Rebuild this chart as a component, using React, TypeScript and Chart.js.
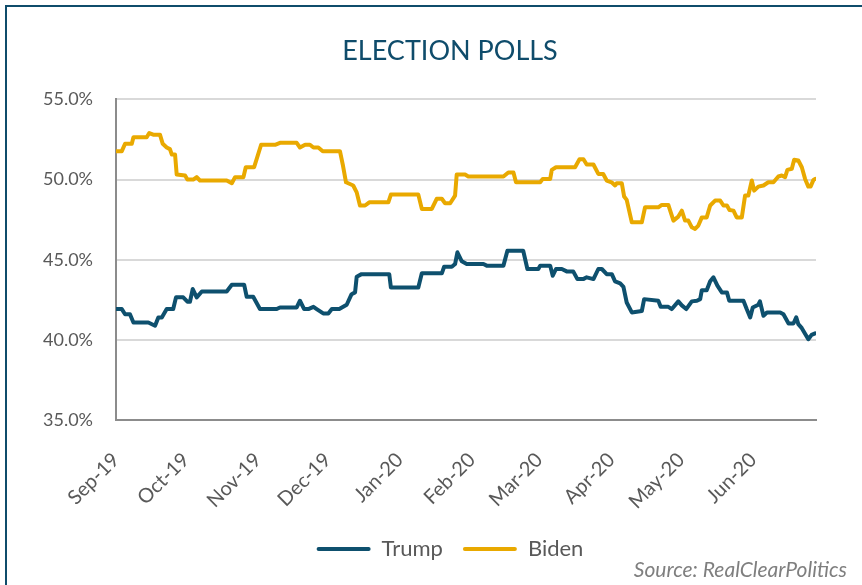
import React, { useEffect, useRef } from "react";
import { Chart, registerables } from "chart.js";

Chart.register(...registerables);

// Month tick labels and their day offsets from 1 Sep 2019
const monthLabels = ["Sep-19", "Oct-19", "Nov-19", "Dec-19", "Jan-20", "Feb-20", "Mar-20", "Apr-20", "May-20", "Jun-20"];
const monthStartDays = [0, 30, 61, 91, 122, 153, 182, 213, 243, 274];
const lastDay = 301;

// Biden (RCP average, %)
const bidenDays = [0, 2.5, 3.9, 6.8, 7.5, 13.2, 14.3, 16, 18.9, 20.1, 21.8, 23.2, 24, 25.4, 26.1, 29.7, 30.7, 33.2, 34.7, 36.1, 47.6, 49.8, 51.2, 54.8, 55.8, 59.4, 62.4, 68.4, 70.5, 77.7, 79.1, 81.3, 83.4, 84.9, 87, 88.9, 96.3, 97.5, 98.9, 102, 103.5, 104.9, 107.1, 108.9, 117.1, 118.2, 130, 131.5, 135.8, 137.9, 140.1, 141.5, 143.7, 145.8, 146.5, 150.1, 151.5, 166.6, 168.7, 170.9, 172, 182.4, 183.5, 186.7, 187.4, 189.2, 197.4, 199.3, 201, 202.4, 205.3, 207.4, 209.5, 211, 213.1, 214.6, 215.3, 217.5, 218.5, 219.6, 221.8, 226.1, 227.5, 233.2, 234.7, 237.5, 239.7, 241.8, 243.3, 244.7, 246.1, 247.6, 249, 250.4, 251.9, 254, 255.5, 257.6, 259.8, 261.2, 262.7, 263.8, 265.5, 266.9, 269.1, 270.5, 271.9, 273.4, 274.4, 276.2, 278.4, 280.5, 282.7, 284.8, 286.3, 287.7, 288.7, 290.6, 291.6, 293.4, 294.9, 296.3, 297.7, 298.7, 299.9, 300.6];
const bidenValues = [51.77, 51.77, 52.23, 52.23, 52.64, 52.64, 52.9, 52.8, 52.8, 52.23, 52.0, 51.9, 51.56, 51.56, 50.31, 50.25, 50.0, 50.0, 50.15, 49.94, 49.94, 49.77, 50.15, 50.15, 50.77, 50.77, 52.17, 52.17, 52.29, 52.29, 52.0, 52.17, 52.17, 52.0, 52.0, 51.77, 51.77, 50.94, 49.83, 49.63, 49.2, 48.38, 48.38, 48.58, 48.58, 49.06, 49.06, 48.17, 48.17, 48.8, 48.8, 48.52, 48.52, 49.0, 50.31, 50.31, 50.19, 50.19, 50.44, 50.44, 49.83, 49.83, 50.04, 50.04, 50.6, 50.77, 50.77, 51.27, 51.27, 50.94, 50.94, 50.35, 50.35, 49.94, 49.83, 49.63, 49.77, 49.77, 48.94, 48.73, 47.33, 47.33, 48.27, 48.27, 48.42, 48.42, 47.44, 47.69, 48.06, 47.44, 47.44, 47.02, 46.92, 47.13, 47.64, 47.64, 48.38, 48.69, 48.69, 48.38, 48.38, 48.1, 48.06, 47.64, 47.64, 49.0, 49.0, 49.94, 49.31, 49.56, 49.63, 49.83, 49.83, 50.19, 50.25, 50.15, 50.6, 50.67, 51.23, 51.19, 50.77, 50.04, 49.56, 49.56, 49.98, 50.04];

// Trump (RCP average, %)
const trumpDays = [0, 2.5, 3.9, 6, 7.5, 13.9, 16.8, 18.2, 19.7, 21.8, 24.6, 25.8, 28.9, 30.7, 31.8, 33, 34.7, 36.9, 47.6, 49.8, 55.1, 56.2, 59, 61.9, 69.1, 70.5, 77.7, 79.1, 80.9, 82.7, 84.9, 86.3, 89.1, 91.3, 92.8, 96, 99.2, 101.3, 102.8, 103.5, 105.6, 117.5, 118.2, 130, 131.5, 140.1, 141.1, 144.4, 145.8, 146.8, 148.7, 150.8, 158, 159.4, 166.6, 168.3, 175.1, 176.9, 181.6, 182.4, 186.7, 187.8, 189.2, 191.7, 193.8, 196.6, 198.4, 200.9, 202.4, 205.3, 207.4, 208.9, 211, 213.2, 214.6, 216.8, 218.2, 219.6, 221.8, 226.1, 227.1, 233.2, 234.2, 237.5, 239, 241.8, 243.3, 245.2, 247.6, 249.8, 251.2, 251.9, 254, 255.5, 256.9, 258.6, 260.5, 262.7, 263.7, 269.8, 271.2, 272.7, 273.8, 276.2, 276.9, 278.4, 279.9, 285.6, 287, 289.2, 291.3, 292.5, 293.4, 294.9, 297.7, 299.1, 300.6];
const trumpValues = [41.92, 41.92, 41.6, 41.6, 41.08, 41.08, 40.88, 41.4, 41.4, 41.92, 41.92, 42.65, 42.65, 42.38, 42.38, 43.17, 42.65, 43.02, 43.02, 43.44, 43.44, 42.69, 42.69, 41.92, 41.92, 42.02, 42.02, 42.44, 41.92, 41.92, 42.06, 41.92, 41.65, 41.65, 41.92, 41.92, 42.19, 42.85, 42.96, 43.94, 44.1, 44.1, 43.27, 43.27, 44.15, 44.15, 44.56, 44.56, 44.73, 45.46, 44.9, 44.73, 44.73, 44.63, 44.63, 45.56, 45.56, 44.42, 44.42, 44.63, 44.63, 44.0, 44.42, 44.42, 44.27, 44.27, 43.79, 43.79, 43.9, 43.79, 44.42, 44.42, 44.1, 44.1, 43.65, 43.52, 43.3, 42.33, 41.71, 41.8, 42.54, 42.44, 42.06, 42.06, 41.92, 42.4, 42.15, 41.92, 42.4, 42.44, 42.54, 43.1, 43.1, 43.65, 43.9, 43.38, 42.96, 42.96, 42.44, 42.44, 41.92, 41.4, 42.02, 42.19, 42.4, 41.5, 41.71, 41.71, 41.6, 41.02, 41.02, 41.4, 40.98, 40.73, 40.04, 40.31, 40.4];

const yMin = 35;
const yMax = 55;
const yStep = 5;

const TRUMP_COLOR = "#0E506E";
const BIDEN_COLOR = "#E9A900";
const FRAME_COLOR = "#0F4C6B";
const TEXT_GRAY = "#595959";
const FONT = "Lato, 'Open Sans', sans-serif";

export default function App() {
  const canvasRef = useRef<HTMLCanvasElement | null>(null);

  useEffect(() => {
    const canvas = canvasRef.current;
    if (!canvas) return;
    const toPoints = (days: number[], vals: number[]) => days.map((d, i) => ({ x: d, y: vals[i] }));
    const chart = new Chart(canvas, {
      type: "line",
      data: {
        datasets: [
          {
            label: "Trump",
            data: toPoints(trumpDays, trumpValues),
            borderColor: TRUMP_COLOR,
            backgroundColor: TRUMP_COLOR,
            borderWidth: 4,
            pointRadius: 0,
            tension: 0,
            fill: false,
            borderJoinStyle: "round",
            borderCapStyle: "round",
          },
          {
            label: "Biden",
            data: toPoints(bidenDays, bidenValues),
            borderColor: BIDEN_COLOR,
            backgroundColor: BIDEN_COLOR,
            borderWidth: 4,
            pointRadius: 0,
            tension: 0,
            fill: false,
            borderJoinStyle: "round",
            borderCapStyle: "round",
          },
        ],
      },
      options: {
        responsive: false,
        animation: false,
        devicePixelRatio: 1,
        layout: { padding: { left: 0, right: 0, top: 0, bottom: 15 } },
        plugins: {
          title: {
            display: true,
            text: "ELECTION POLLS",
            color: FRAME_COLOR,
            font: { family: FONT, size: 27, weight: "normal" },
            padding: { top: 35, bottom: 32 },
          },
          legend: {
            display: true,
            position: "bottom",
            labels: {
              color: TEXT_GRAY,
              font: { family: FONT, size: 22 },
              boxWidth: 54,
              boxHeight: 4,
              padding: 20,
              generateLabels: (ch: any) => {
                const items = Chart.defaults.plugins.legend.labels.generateLabels(ch);
                return items.map((it: any) => ({ ...it, lineWidth: 0, borderRadius: 2 }));
              },
            },
          },
          tooltip: { enabled: false },
        },
        scales: {
          x: {
            type: "linear",
            position: "bottom",
            min: 0,
            max: lastDay,
            afterBuildTicks: (scale: any) => {
              scale.ticks = monthStartDays.map((v) => ({ value: v }));
            },
            afterFit: (scale: any) => {
              scale.height = 98;
            },
            ticks: {
              autoSkip: false,
              maxRotation: 45,
              minRotation: 45,
              padding: 28,
              color: TEXT_GRAY,
              font: { family: FONT, size: 20 },
              callback: (v: any) => {
                const i = monthStartDays.indexOf(Number(v));
                return i >= 0 ? monthLabels[i] : "";
              },
            },
            grid: { display: false, drawTicks: false },
            border: { display: true, color: "#8C8C8C", width: 2 },
          },
          y: {
            type: "linear",
            position: "left",
            min: yMin,
            max: yMax,
            afterFit: (scale: any) => {
              scale.width = 116;
            },
            ticks: {
              stepSize: yStep,
              padding: 23,
              color: TEXT_GRAY,
              font: { family: FONT, size: 18 },
              callback: (v: any) => Number(v).toFixed(1) + "%",
            },
            grid: { color: "#D9D9D9", lineWidth: 2, drawTicks: false },
            border: { display: true, color: "#8C8C8C", width: 2 },
          },
          spacer: {
            type: "linear",
            position: "right",
            display: true,
            afterFit: (scale: any) => {
              scale.width = 84;
            },
            ticks: { display: false },
            grid: { display: false, drawTicks: false },
            border: { display: false },
          },
        },
      },
    } as any);
    return () => chart.destroy();
  }, []);

  return (
    <div style={{ position: "fixed", left: 0, top: 0, width: 862, height: 585, overflow: "hidden", background: "#fff" }}>
      <div
        style={{
          position: "absolute",
          left: 5,
          top: 5,
          width: 900,
          height: 700,
          border: `2px solid ${FRAME_COLOR}`,
          boxSizing: "border-box",
        }}
      />
      <canvas ref={canvasRef} width={900} height={585} style={{ position: "absolute", left: 0, top: 0, width: 900, height: 585 }} />
      <div
        style={{
          position: "absolute",
          right: 15,
          top: 556,
          fontFamily: FONT,
          fontStyle: "italic",
          fontSize: 21,
          lineHeight: "26px",
          color: "#7F7F7F",
          whiteSpace: "nowrap",
        }}
      >
        Source: RealClearPolitics
      </div>
    </div>
  );
}
